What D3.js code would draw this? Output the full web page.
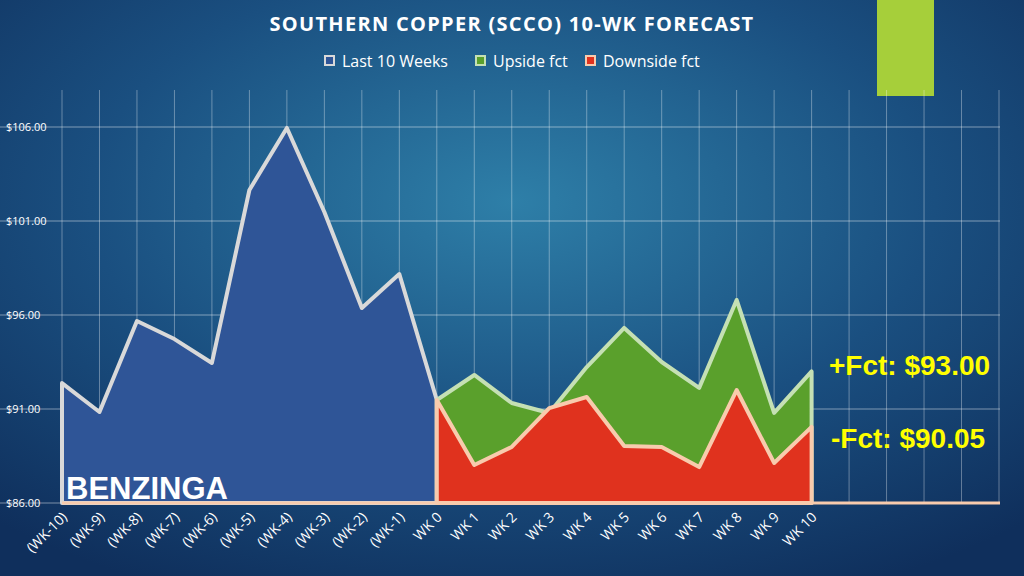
<!DOCTYPE html>
<html><head><meta charset="utf-8">
<script src="https://cdn.jsdelivr.net/npm/d3@7"></script>
<style>body{margin:0;overflow:hidden}svg{display:block}</style>
</head><body><svg id="c" width="1024" height="576"></svg>
<script>
const categories=["(WK-10)","(WK-9)","(WK-8)","(WK-7)","(WK-6)","(WK-5)","(WK-4)","(WK-3)","(WK-2)","(WK-1)","WK 0","WK 1","WK 2","WK 3","WK 4","WK 5","WK 6","WK 7","WK 8","WK 9","WK 10","","","","",""];
const last10=[92.38,90.84,95.68,94.72,93.45,102.65,105.95,101.48,96.37,98.18,91.48];
const upside=[91.48,92.81,91.32,90.79,93.23,95.31,93.5,92.12,96.8,90.79,93.0];
const downside=[91.48,88.02,88.98,91.05,91.64,89.03,88.98,87.91,92.01,88.13,90.05];
const yTicks=[86,91,96,101,106];
const svg=d3.select("#c");
const defs=svg.append("defs");
const g=defs.append("radialGradient").attr("id","bg").attr("cx","50%").attr("cy","35%").attr("r","75%");
g.append("stop").attr("offset","0%").attr("stop-color","#2e7fa8");
g.append("stop").attr("offset","55%").attr("stop-color","#1a4f80");
g.append("stop").attr("offset","100%").attr("stop-color","#0f2f5c");
svg.append("rect").attr("width",1024).attr("height",576).attr("fill","url(#bg)");
svg.append("rect").attr("x",877).attr("y",0).attr("width",57).attr("height",96).attr("fill","#a6cf3a");
const x=d3.scalePoint().domain(d3.range(categories.length)).range([62,999]);
const y=d3.scaleLinear().domain([86,106]).range([503,127]);
svg.append("g").selectAll("line").data(d3.range(categories.length)).join("line")
 .attr("x1",d=>x(d)).attr("x2",d=>x(d)).attr("y1",90).attr("y2",503)
 .attr("stroke","rgba(255,255,255,0.35)").attr("stroke-width",1);
svg.append("g").selectAll("line").data(yTicks).join("line")
 .attr("x1",0).attr("x2",1000).attr("y1",d=>y(d)).attr("y2",d=>y(d))
 .attr("stroke","rgba(255,255,255,0.45)").attr("stroke-width",1);
svg.append("g").selectAll("text").data(yTicks).join("text")
 .attr("x",6).attr("y",d=>y(d)+4).attr("fill","#fff").attr("font-family","Open Sans").attr("font-size",11)
 .text(d=>"$"+d.toFixed(2));
function area(data,off,fill,stroke){
 const a=d3.area().x((d,i)=>x(i+off)).y0(y(86)).y1(d=>y(d));
 svg.append("path").datum(data).attr("d",a).attr("fill",fill);
 svg.append("path").datum(data).attr("d",a).attr("fill","none").attr("stroke",stroke).attr("stroke-width",4).attr("stroke-linejoin","round");
}
area(last10,0,"#2f5597","#d9d9d9");
area(upside,10,"#5aa02c","#c5e0b4");
area(downside,10,"#e0321e","#f8cbad");
svg.append("line").attr("x1",62).attr("x2",1000).attr("y1",y(86)).attr("y2",y(86)).attr("stroke","#f8cbad").attr("stroke-width",3);
svg.append("g").selectAll("text").data(categories).join("text")
 .attr("transform",(d,i)=>`translate(${x(i)+6},${518}) rotate(-45)`).attr("text-anchor","end")
 .attr("fill","#fff").attr("font-family","Open Sans").attr("font-size",14).text(d=>d);
svg.append("text").attr("x",512).attr("y",31).attr("text-anchor","middle").attr("fill","#fff")
 .attr("font-family","Open Sans").attr("font-weight","bold").attr("font-size",20).attr("letter-spacing",1.3).text("SOUTHERN COPPER (SCCO) 10-WK FORECAST");
const leg=[["Last 10 Weeks","#2f5597","#d9d9d9",325],["Upside fct","#5aa02c","#c5e0b4",476],["Downside fct","#e0321e","#f8cbad",586]];
leg.forEach(([t,f,s,lx])=>{
 svg.append("rect").attr("x",lx).attr("y",56).attr("width",9).attr("height",9).attr("fill",f).attr("stroke",s).attr("stroke-width",2);
 svg.append("text").attr("x",lx+17).attr("y",67).attr("fill","#fff").attr("font-family","Open Sans").attr("font-size",16).text(t);
});
svg.append("text").attr("x",829).attr("y",375).attr("fill","#ffff00").attr("font-family","Liberation Sans").attr("font-weight","bold").attr("font-size",28).text("+Fct: $93.00");
svg.append("text").attr("x",831).attr("y",448).attr("fill","#ffff00").attr("font-family","Liberation Sans").attr("font-weight","bold").attr("font-size",28).text("-Fct: $90.05");
svg.append("text").attr("x",66).attr("y",499).attr("fill","#fff").attr("font-family","Liberation Sans").attr("font-weight","bold").attr("font-size",31).text("BENZINGA");
</script></body></html>
